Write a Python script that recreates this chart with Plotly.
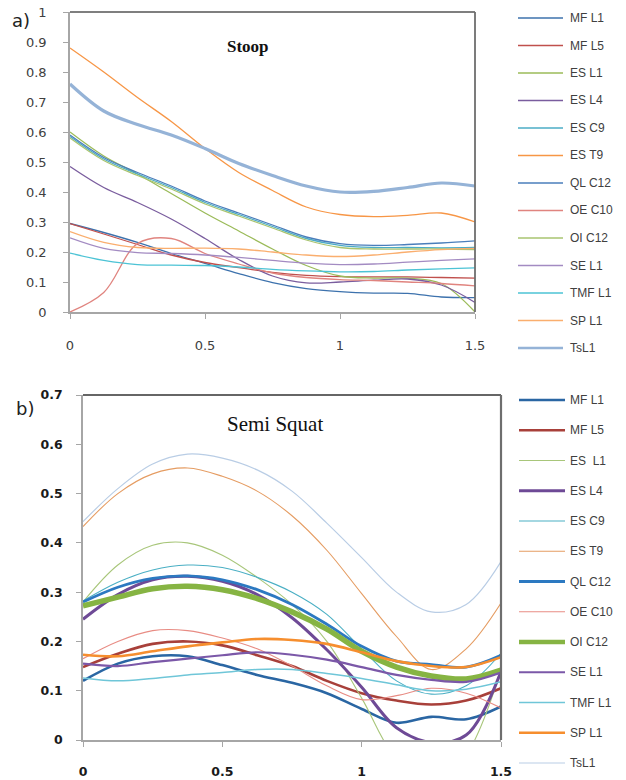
import plotly.graph_objects as go

# ---------------- data ----------------
X = [0, 0.125, 0.25, 0.375, 0.5, 0.625, 0.75, 0.875, 1.0, 1.125, 1.25, 1.375, 1.5]
names = ["MF L1", "MF L5", "ES L1", "ES L4", "ES C9", "ES T9", "QL C12",
         "OE C10", "OI C12", "SE L1", "TMF L1", "SP L1", "TsL1"]
names_b = ["MF L1", "MF L5", "ES  L1", "ES L4", "ES C9", "ES T9", "QL C12",
           "OE C10", "OI C12", "SE L1", "TMF L1", "SP L1", "TsL1"]

# a) Stoop
stoop_mf_l1 = [0.295, 0.265, 0.232, 0.195, 0.162, 0.128, 0.098, 0.078, 0.068, 0.063, 0.062, 0.05, 0.048]
stoop_mf_l5 = [0.295, 0.26, 0.225, 0.19, 0.165, 0.148, 0.132, 0.122, 0.118, 0.117, 0.117, 0.115, 0.113]
stoop_es_l1 = [0.60, 0.52, 0.46, 0.395, 0.33, 0.27, 0.21, 0.155, 0.12, 0.113, 0.113, 0.095, 0.0]
stoop_es_l4 = [0.485, 0.415, 0.365, 0.31, 0.245, 0.175, 0.12, 0.097, 0.1, 0.106, 0.11, 0.09, 0.032]
stoop_es_c9 = [0.585, 0.51, 0.46, 0.415, 0.365, 0.325, 0.285, 0.245, 0.222, 0.215, 0.215, 0.214, 0.215]
stoop_es_t9 = [0.88, 0.80, 0.715, 0.635, 0.545, 0.465, 0.405, 0.35, 0.325, 0.318, 0.322, 0.33, 0.30]
stoop_ql_c12 = [0.59, 0.515, 0.465, 0.42, 0.37, 0.33, 0.29, 0.25, 0.228, 0.222, 0.225, 0.23, 0.237]
stoop_oe_c10 = [0.0, 0.065, 0.228, 0.245, 0.195, 0.16, 0.13, 0.115, 0.108, 0.105, 0.1, 0.095, 0.087]
stoop_oi_c12 = [0.58, 0.505, 0.455, 0.41, 0.36, 0.32, 0.28, 0.24, 0.215, 0.21, 0.21, 0.21, 0.208]
stoop_se_l1 = [0.247, 0.212, 0.198, 0.195, 0.19, 0.182, 0.172, 0.163, 0.158, 0.16, 0.166, 0.172, 0.177]
stoop_tmf_l1 = [0.196, 0.172, 0.158, 0.156, 0.155, 0.15, 0.142, 0.137, 0.134, 0.135, 0.14, 0.144, 0.147]
stoop_sp_l1 = [0.268, 0.232, 0.215, 0.212, 0.213, 0.21, 0.2, 0.19, 0.185, 0.19, 0.2, 0.208, 0.212]
stoop_ts_l1 = [0.76, 0.67, 0.625, 0.59, 0.545, 0.495, 0.455, 0.42, 0.40, 0.402, 0.415, 0.43, 0.42]

# b) Semi Squat
squat_mf_l1 = [0.12, 0.155, 0.17, 0.17, 0.152, 0.132, 0.116, 0.095, 0.063, 0.035, 0.047, 0.042, 0.068]
squat_mf_l5 = [0.148, 0.175, 0.195, 0.2, 0.192, 0.172, 0.15, 0.12, 0.095, 0.08, 0.072, 0.08, 0.105]
squat_es_l1 = [0.28, 0.355, 0.395, 0.40, 0.375, 0.33, 0.275, 0.20, 0.085, -0.04, -0.09, -0.03, 0.142]
squat_es_l4 = [0.245, 0.295, 0.325, 0.332, 0.322, 0.295, 0.248, 0.183, 0.107, 0.025, -0.005, 0.01, 0.139]
squat_es_c9 = [0.282, 0.32, 0.345, 0.355, 0.35, 0.33, 0.30, 0.255, 0.185, 0.12, 0.093, 0.11, 0.176]
squat_es_t9 = [0.433, 0.50, 0.54, 0.552, 0.535, 0.505, 0.455, 0.385, 0.297, 0.21, 0.143, 0.185, 0.278]
squat_ql_c12 = [0.28, 0.31, 0.328, 0.333, 0.325, 0.305, 0.275, 0.235, 0.19, 0.16, 0.153, 0.148, 0.172]
squat_oe_c10 = [0.165, 0.2, 0.222, 0.222, 0.207, 0.185, 0.15, 0.11, 0.082, 0.09, 0.105, 0.095, 0.065]
squat_oi_c12 = [0.272, 0.29, 0.307, 0.312, 0.305, 0.287, 0.26, 0.225, 0.18, 0.148, 0.13, 0.124, 0.142]
squat_se_l1 = [0.155, 0.15, 0.158, 0.165, 0.172, 0.178, 0.173, 0.163, 0.148, 0.132, 0.122, 0.118, 0.137]
squat_tmf_l1 = [0.126, 0.12, 0.125, 0.132, 0.137, 0.143, 0.143, 0.135, 0.125, 0.112, 0.1, 0.103, 0.118]
squat_sp_l1 = [0.173, 0.17, 0.18, 0.19, 0.198, 0.205, 0.203, 0.195, 0.178, 0.16, 0.15, 0.148, 0.168]
squat_ts_l1 = [0.443, 0.51, 0.56, 0.58, 0.572, 0.548, 0.505, 0.44, 0.37, 0.30, 0.26, 0.275, 0.362]

stoop = [stoop_mf_l1, stoop_mf_l5, stoop_es_l1, stoop_es_l4, stoop_es_c9, stoop_es_t9,
         stoop_ql_c12, stoop_oe_c10, stoop_oi_c12, stoop_se_l1, stoop_tmf_l1, stoop_sp_l1, stoop_ts_l1]
squat = [squat_mf_l1, squat_mf_l5, squat_es_l1, squat_es_l4, squat_es_c9, squat_es_t9,
         squat_ql_c12, squat_oe_c10, squat_oi_c12, squat_se_l1, squat_tmf_l1, squat_sp_l1, squat_ts_l1]

y_ticks_a = [0, 0.1, 0.2, 0.3, 0.4, 0.5, 0.6, 0.7, 0.8, 0.9, 1]
y_ticks_b = [0, 0.1, 0.2, 0.3, 0.4, 0.5, 0.6, 0.7]
x_ticks = [0, 0.5, 1, 1.5]

# ---------------- styles ----------------
colors_a = ["#3D72AD", "#C0504D", "#9BBB59", "#7A5D9E", "#4BACC6", "#F79646", "#4A7EBB",
            "#E0847F", "#A9C470", "#A38BC2", "#4CC3D5", "#FAAE6E", "#95B3D7"]
widths_a = [1.3] * 12 + [3.2]
colors_b = ["#2A66A3", "#A8403A", "#A8C67A", "#6E4A96", "#4AAFC4", "#E59C62", "#2C79C1",
            "#E88C84", "#86B443", "#7B58A8", "#6FC6D8", "#F68E2E", "#B9CDE5"]
widths_b = [2.6, 2.6, 1.1, 3.0, 1.1, 1.1, 2.8, 1.1, 5.5, 2.2, 1.5, 2.6, 1.2]

W, H = 626, 780

fig = go.Figure()
for i, n in enumerate(names):
    fig.add_trace(go.Scatter(x=X, y=stoop[i], name=n, mode="lines", showlegend=False,
                             line=dict(color=colors_a[i], width=widths_a[i], shape="spline", smoothing=1.0),
                             xaxis="x", yaxis="y"))
for i, n in enumerate(names_b):
    fig.add_trace(go.Scatter(x=X, y=squat[i], name=n, mode="lines", showlegend=False,
                             line=dict(color=colors_b[i], width=widths_b[i], shape="spline", smoothing=1.0),
                             xaxis="x2", yaxis="y2"))

def dx(a, b):
    return [a / W, b / W]
def dy(top, bot):
    return [1 - bot / H, 1 - top / H]

shapes = [
    dict(type="line", xref="x domain", yref="y domain", x0=0, x1=1, y0=1, y1=1,
         line=dict(color="#000000", width=1.2)),
    dict(type="line", xref="x domain", yref="y domain", x0=1, x1=1, y0=0, y1=1,
         line=dict(color="#6E6E6E", width=1.8)),
    dict(type="line", xref="x2 domain", yref="y2 domain", x0=0, x1=1, y0=1, y1=1,
         line=dict(color="#333333", width=1.4)),
    dict(type="line", xref="x2 domain", yref="y2 domain", x0=1, x1=1, y0=0, y1=1,
         line=dict(color="#6E6E6E", width=2.2)),
]
annotations = [
    dict(text="a)", x=10 / W, y=1 - 20 / H, xref="paper", yref="paper", xanchor="left", yanchor="middle",
         showarrow=False, font=dict(family="DejaVu Sans", size=18, color="#222")),
    dict(text="<b>Stoop</b>", x=248 / W, y=1 - 46 / H, xref="paper", yref="paper", xanchor="center",
         yanchor="middle", showarrow=False, font=dict(family="Liberation Serif", size=17, color="#111")),
    dict(text="b)", x=14 / W, y=1 - 408 / H, xref="paper", yref="paper", xanchor="left", yanchor="middle",
         showarrow=False, font=dict(family="DejaVu Sans", size=18, color="#222")),
    dict(text="Semi Squat", x=275 / W, y=1 - 424 / H, xref="paper", yref="paper", xanchor="center",
         yanchor="middle", showarrow=False, font=dict(family="Liberation Serif", size=21, color="#111")),
]
leg_font = dict(family="Liberation Sans", size=12, color="#404040")
for i, n in enumerate(names):
    yy = 1 - (18 + i * 27.5) / H
    shapes.append(dict(type="line", xref="paper", yref="paper", x0=518 / W, x1=563 / W, y0=yy, y1=yy,
                       line=dict(color=colors_a[i], width=min(widths_a[i], 2.6))))
    annotations.append(dict(text=n, x=568 / W, y=yy, xref="paper", yref="paper", xanchor="left",
                            yanchor="middle", showarrow=False, font=leg_font))
for i, n in enumerate(names_b):
    yy = 1 - (400 + i * 30.25) / H
    shapes.append(dict(type="line", xref="paper", yref="paper", x0=519 / W, x1=565 / W, y0=yy, y1=yy,
                       line=dict(color=colors_b[i], width=min(widths_b[i], 4.5))))
    annotations.append(dict(text=n, x=568 / W, y=yy, xref="paper", yref="paper", xanchor="left",
                            yanchor="middle", showarrow=False, font=leg_font))

tick_font_a = dict(family="DejaVu Sans", size=13, color="#404040")
tick_font_b = dict(family="DejaVu Sans", size=12.5, color="#1a1a1a", weight="bold")

axis_common = dict(showgrid=False, zeroline=False, showline=True, linecolor="#A6A6A6", linewidth=1.5,
                   ticks="outside", ticklen=5, tickcolor="#A6A6A6", automargin=False)

fig.update_layout(
    width=W, height=H, margin=dict(l=0, r=0, t=0, b=0),
    paper_bgcolor="white", plot_bgcolor="white", showlegend=False,
    xaxis=dict(domain=dx(70, 475), range=[0, 1.5], tickvals=x_ticks, ticktext=["0", "0.5", "1", "1.5"],
               tickfont=tick_font_a, ticklabelstandoff=16, anchor="y", **axis_common),
    yaxis=dict(domain=dy(12, 312), range=[0, 1], tickvals=y_ticks_a,
               ticktext=["0", "0.1", "0.2", "0.3", "0.4", "0.5", "0.6", "0.7", "0.8", "0.9", "1"],
               tickfont=tick_font_a, ticklabelstandoff=14, anchor="x", **axis_common),
    xaxis2=dict(domain=dx(83, 501), range=[0, 1.5], tickvals=x_ticks, ticktext=["0", "0.5", "1", "1.5"],
                tickfont=tick_font_b, ticklabelstandoff=14, anchor="y2", **axis_common),
    yaxis2=dict(domain=dy(395, 740), range=[0, 0.7], tickvals=y_ticks_b,
                ticktext=["0", "0.1", "0.2", "0.3", "0.4", "0.5", "0.6", "0.7"],
                tickfont=tick_font_b, ticklabelstandoff=11, anchor="x2", **axis_common),
    shapes=shapes,
    annotations=annotations,
)

fig.write_html("out.html", config={"displayModeBar": False},
               post_script="document.body.style.margin='0';document.body.style.overflow='hidden';")
